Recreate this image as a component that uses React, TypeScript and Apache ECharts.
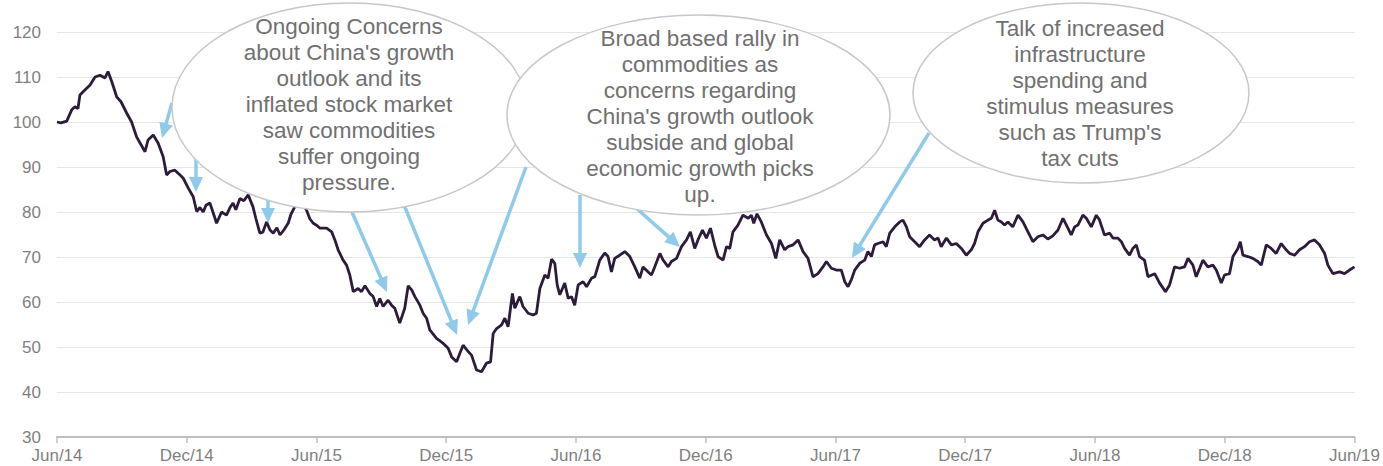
import React, { useEffect, useRef } from "react";
import * as echarts from "echarts";

// x = months since Jun 2014, y = index level
const MONTHS: number[] = [
  0, 0.18, 0.45, 0.68, 0.83, 0.97, 1.06, 1.29, 1.53, 1.76, 1.99, 2.22, 2.36, 2.53, 2.76, 2.96,
  3.22, 3.45, 3.68, 3.88, 4.07, 4.21, 4.45, 4.68, 4.91, 5.07, 5.22, 5.45, 5.69, 5.84, 6.07, 6.3,
  6.46, 6.61, 6.76, 6.89, 7.07, 7.21, 7.38, 7.61, 7.84, 8.0, 8.14, 8.27, 8.46, 8.64, 8.84, 9.06,
  9.2, 9.38, 9.52, 9.69, 9.85, 10.0, 10.17, 10.31, 10.49, 10.69, 10.82, 11.0, 11.14, 11.31, 11.54, 11.69,
  11.85, 12.02, 12.16, 12.47, 12.7, 12.85, 13.0, 13.23, 13.39, 13.54, 13.7, 13.93, 14.08, 14.24, 14.47, 14.62,
  14.78, 14.93, 15.08, 15.31, 15.47, 15.62, 15.85, 16.08, 16.24, 16.4, 16.55, 16.78, 16.93, 17.09, 17.24, 17.55,
  17.86, 18.09, 18.25, 18.48, 18.63, 18.78, 19.01, 19.17, 19.4, 19.63, 19.86, 20.05, 20.17, 20.33, 20.56, 20.71,
  20.86, 21.06, 21.17, 21.4, 21.55, 21.79, 22.02, 22.17, 22.33, 22.56, 22.71, 22.87, 23.02, 23.13, 23.25, 23.48,
  23.64, 23.79, 23.94, 24.1, 24.33, 24.49, 24.72, 24.87, 25.1, 25.33, 25.48, 25.64, 25.79, 26.02, 26.26, 26.49,
  26.72, 26.95, 27.1, 27.33, 27.49, 27.64, 27.88, 28.03, 28.26, 28.41, 28.65, 28.88, 29.11, 29.29, 29.49, 29.64,
  29.85, 30.03, 30.22, 30.42, 30.57, 30.8, 30.96, 31.11, 31.26, 31.49, 31.72, 31.96, 32.11, 32.22, 32.37, 32.57,
  32.81, 33.04, 33.24, 33.42, 33.65, 33.8, 34.04, 34.27, 34.5, 34.73, 34.96, 35.19, 35.42, 35.58, 35.81, 36.04,
  36.27, 36.43, 36.58, 36.73, 36.89, 37.12, 37.35, 37.5, 37.66, 37.81, 37.96, 38.2, 38.35, 38.51, 38.74, 38.97,
  39.12, 39.28, 39.43, 39.66, 39.89, 40.12, 40.35, 40.58, 40.74, 40.89, 41.13, 41.36, 41.59, 41.82, 42.05, 42.28,
  42.43, 42.59, 42.82, 43.05, 43.21, 43.36, 43.51, 43.67, 43.82, 43.97, 44.2, 44.44, 44.67, 44.9, 45.13, 45.36,
  45.59, 45.82, 46.05, 46.29, 46.52, 46.75, 46.9, 47.06, 47.21, 47.44, 47.6, 47.83, 48.06, 48.21, 48.44, 48.68,
  48.83, 49.06, 49.22, 49.37, 49.6, 49.75, 49.91, 50.06, 50.29, 50.45, 50.76, 50.99, 51.26, 51.45, 51.68, 51.91,
  52.14, 52.3, 52.53, 52.68, 52.84, 52.99, 53.22, 53.45, 53.61, 53.84, 53.99, 54.22, 54.38, 54.61, 54.72, 54.84,
  55.07, 55.3, 55.53, 55.69, 55.92, 56.15, 56.38, 56.61, 56.84, 57.0, 57.23, 57.46, 57.69, 57.92, 58.15, 58.38,
  58.62, 58.77, 59.0, 59.31, 59.54, 59.77, 60.0,
];

const VALUES: number[] = [
  100.0, 99.8, 100.2, 102.7, 103.4, 103.0, 106.0, 107.1, 108.2, 110.0, 110.4, 109.8, 111.2, 109.0, 105.6, 104.5,
  102.0, 100.0, 96.7, 95.0, 93.4, 96.0, 97.1, 95.3, 92.3, 88.2, 89.0, 89.3, 88.2, 87.5, 85.3, 83.4,
  80.1, 81.0, 80.0, 81.5, 82.0, 80.0, 77.5, 80.0, 79.3, 81.0, 82.0, 80.5, 83.0, 82.5, 83.8, 81.2,
  78.5, 75.3, 75.5, 77.8, 76.0, 75.3, 76.5, 74.9, 76.0, 77.5, 79.5, 81.2, 81.5, 82.3, 80.4, 78.5,
  77.5, 77.0, 76.4, 76.4, 75.6, 73.8, 71.6, 69.3, 68.2, 66.0, 62.3, 63.0, 62.3, 63.6, 61.9, 61.2,
  59.0, 60.8, 59.0, 60.4, 59.3, 58.6, 55.3, 58.6, 63.6, 62.7, 61.2, 59.3, 57.5, 56.4, 53.8, 51.9,
  50.8, 49.7, 47.8, 46.7, 48.6, 50.4, 49.0, 48.2, 44.9, 44.5, 46.4, 46.7, 53.0, 54.1, 54.9, 56.4,
  54.5, 61.9, 58.6, 61.2, 59.0, 57.5, 57.1, 57.5, 63.0, 66.0, 65.3, 69.5, 68.6, 63.8, 61.6, 64.2,
  60.8, 61.2, 59.3, 63.8, 64.5, 63.4, 65.3, 65.6, 69.3, 70.9, 70.1, 66.7, 69.7, 70.4, 71.2, 70.1,
  67.8, 65.3, 67.8, 66.7, 66.0, 67.8, 70.8, 69.3, 67.8, 69.0, 69.7, 72.3, 73.8, 75.6, 71.9, 73.8,
  76.0, 74.2, 76.4, 72.5, 70.1, 69.3, 72.3, 71.9, 75.6, 77.1, 79.3, 78.6, 79.3, 77.5, 79.6, 77.8,
  74.9, 73.0, 69.7, 73.8, 71.6, 72.3, 72.7, 73.8, 71.2, 69.7, 65.6, 66.3, 67.8, 69.0, 67.5, 67.1,
  67.1, 64.5, 63.4, 64.9, 67.1, 68.6, 69.3, 71.2, 70.1, 72.7, 73.0, 73.4, 72.3, 75.3, 76.7, 77.8,
  78.2, 76.7, 74.5, 73.4, 72.3, 73.8, 74.9, 73.8, 74.2, 72.3, 74.2, 72.7, 73.0, 71.9, 70.4, 71.6,
  73.0, 75.6, 77.5, 78.2, 78.6, 80.4, 78.2, 77.8, 77.1, 77.8, 76.7, 79.3, 77.8, 75.6, 73.4, 74.5,
  74.9, 74.0, 74.7, 76.0, 78.6, 76.4, 74.9, 76.7, 77.1, 79.3, 78.6, 76.7, 79.3, 78.2, 74.9, 75.3,
  74.2, 74.2, 73.4, 71.9, 70.4, 71.9, 72.7, 70.1, 69.3, 65.6, 66.3, 64.2, 62.3, 63.8, 67.8, 67.5,
  67.8, 69.7, 68.2, 65.6, 67.5, 69.3, 67.8, 68.2, 67.1, 64.2, 66.0, 66.3, 70.1, 71.9, 73.4, 70.4,
  70.1, 69.7, 69.0, 68.2, 72.7, 71.9, 70.8, 73.0, 71.6, 70.8, 70.4, 71.6, 72.3, 73.4, 73.8, 72.7,
  70.8, 68.2, 66.3, 66.7, 66.3, 67.1, 67.8,
];

const TICK_LABELS: string[] = [
  "Jun/14", "Dec/14", "Jun/15", "Dec/15", "Jun/16", "Dec/16",
  "Jun/17", "Dec/17", "Jun/18", "Dec/18", "Jun/19",
];

const NOTE_1 = "Ongoing Concerns\nabout China's growth\noutlook and its\ninflated stock market\nsaw commodities\nsuffer ongoing\npressure.";
const NOTE_2 = "Broad based rally in\ncommodities as\nconcerns regarding\nChina's growth outlook\nsubside and global\neconomic growth picks\nup.";
const NOTE_3 = "Talk of increased\ninfrastructure\nspending and\nstimulus measures\nsuch as Trump's\ntax cuts";

const FONT = "'Liberation Sans', Arial, Helvetica, sans-serif";
const ARROW_COLOR = "#8fcaea";

// annotation arrows (pixel positions in the chart box): [x1, y1, x2(tip), y2(tip)]
const ARROWS: number[][] = [
  [172, 103, 162, 138],
  [196, 157, 196, 192],
  [268, 193, 268, 223],
  [348, 203, 387, 292],
  [400, 195, 457, 335],
  [526, 167, 468, 325],
  [580, 195, 580, 268],
  [635, 207, 680, 247],
  [929, 133, 852, 258],
];

function arrowGraphics() {
  const out: any[] = [];
  ARROWS.forEach(([x1, y1, x2, y2]) => {
    const dx = x2 - x1;
    const dy = y2 - y1;
    const len = Math.sqrt(dx * dx + dy * dy);
    const ux = dx / len;
    const uy = dy / len;
    const headLen = 15;
    const headHalf = 7;
    const bx = x2 - ux * headLen;
    const by = y2 - uy * headLen;
    out.push({
      type: "line",
      z: 5,
      shape: { x1, y1, x2: bx + ux * 2, y2: by + uy * 2 },
      style: { stroke: ARROW_COLOR, lineWidth: 3.5 },
    });
    out.push({
      type: "polygon",
      z: 5,
      shape: {
        points: [
          [x2, y2],
          [bx - uy * headHalf, by + ux * headHalf],
          [bx + uy * headHalf, by - ux * headHalf],
        ],
      },
      style: { fill: ARROW_COLOR },
    });
  });
  return out;
}

function noteGraphics() {
  const ell = (cx: number, cy: number, rx: number, ry: number) => ({
    type: "ellipse",
    z: 10,
    shape: { cx, cy, rx, ry },
    style: { fill: "#ffffff", stroke: "#c8c8c8", lineWidth: 1.5 },
  });
  const txt = (x: number, y: number, t: string) => ({
    type: "text",
    z: 11,
    x,
    y,
    style: {
      text: t,
      fill: "#707070",
      font: `22.5px ${FONT}`,
      fontSize: 22.5,
      fontFamily: FONT,
      align: "center",
      verticalAlign: "middle",
      lineHeight: 26,
    },
  });
  return [
    ell(349.5, 107.5, 177.5, 104.5),
    txt(349, 104.5, NOTE_1),
    ell(698.5, 115, 191.5, 100),
    txt(700, 116, NOTE_2),
    ell(1081, 93, 168, 90),
    txt(1080, 93.5, NOTE_3),
  ];
}

export default function App() {
  const ref = useRef<HTMLDivElement>(null);

  useEffect(() => {
    document.documentElement.style.overflow = "hidden";
    if (!ref.current) return;
    const chart = echarts.init(ref.current, null, { renderer: "svg" });
    const data = MONTHS.map((m, i) => [m, VALUES[i]]);
    chart.setOption({
      animation: false,
      backgroundColor: "#ffffff",
      grid: { left: 57, right: 28, top: 32, bottom: 29, containLabel: false },
      xAxis: {
        type: "value",
        min: 0,
        max: 60,
        interval: 6,
        axisLine: { show: true, lineStyle: { color: "#bfbfbf", width: 2 } },
        axisTick: { show: true, length: 6, lineStyle: { color: "#bfbfbf", width: 1.5 } },
        splitLine: { show: false },
        axisLabel: {
          color: "#7f7f7f",
          fontSize: 17,
          fontFamily: FONT,
          margin: 10,
          formatter: (v: number) => TICK_LABELS[Math.round(v / 6)] ?? "",
        },
      },
      yAxis: {
        type: "value",
        min: 30,
        max: 120,
        interval: 10,
        axisLine: { show: false },
        axisTick: { show: false },
        splitLine: { show: true, lineStyle: { color: "#e6e6e6", width: 1 } },
        axisLabel: { color: "#7f7f7f", fontSize: 17, fontFamily: FONT, margin: 16 },
      },
      series: [
        {
          type: "line",
          data,
          showSymbol: false,
          symbol: "none",
          lineStyle: { color: "#2d1b3c", width: 2.8 },
          z: 3,
        },
      ],
      graphic: [...arrowGraphics(), ...noteGraphics()],
    });
    return () => chart.dispose();
  }, []);

  return (
    <div
      ref={ref}
      style={{ position: "absolute", left: 0, top: 0, width: 1383, height: 466 }}
    />
  );
}
